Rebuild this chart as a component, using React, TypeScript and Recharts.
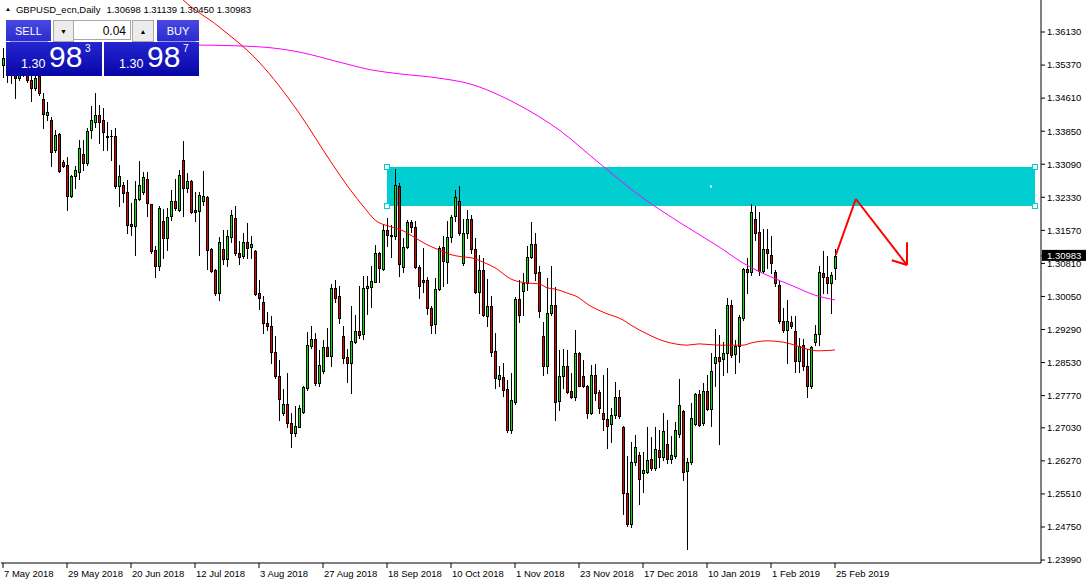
import React from "react";
import {
  ComposedChart,
  Bar,
  Line,
  XAxis,
  YAxis,
  ReferenceArea,
  ReferenceLine,
  ReferenceDot,
} from "recharts";

// GBPUSD daily, 7 May 2018 .. 25 Feb 2019 (one value per bar)
const opens = [
  1.3538, 1.3526, 1.3521, 1.3517, 1.3508, 1.3521, 1.3526, 1.3503, 1.3485, 1.3512,
  1.3459, 1.3422, 1.3411, 1.3342, 1.3378, 1.3314, 1.3307, 1.3236, 1.3281, 1.3292,
  1.3332, 1.3311, 1.3388, 1.3407, 1.3422, 1.3411, 1.3373, 1.3373, 1.3374, 1.3258,
  1.3262, 1.3246, 1.3171, 1.3168, 1.3229, 1.3246, 1.3275, 1.3217, 1.3112, 1.3074,
  1.3179, 1.3140, 1.3189, 1.3225, 1.3204, 1.3319, 1.3255, 1.3271, 1.3204, 1.3202,
  1.3225, 1.3233, 1.3114, 1.3066, 1.3012, 1.3114, 1.3092, 1.3141, 1.3185, 1.3104,
  1.3098, 1.3130, 1.3118, 1.3110, 1.3012, 1.2993, 1.2943, 1.2937, 1.2877, 1.2822,
  1.2738, 1.2757, 1.2715, 1.2692, 1.2706, 1.2740, 1.2795, 1.2890, 1.2907, 1.2805,
  1.2834, 1.2888, 1.2867, 1.3024, 1.3006, 1.2913, 1.2865, 1.2851, 1.2901, 1.2926,
  1.2918, 1.3024, 1.3027, 1.3039, 1.3104, 1.3068, 1.3158, 1.3147, 1.3143, 1.3259,
  1.3072, 1.3118, 1.3176, 1.3164, 1.3072, 1.3043, 1.3043, 1.2978, 1.2941, 1.3022,
  1.3118, 1.3085, 1.3141, 1.3189, 1.3225, 1.3081, 1.3152, 1.3183, 1.3114, 1.3016,
  1.3066, 1.2960, 1.2983, 1.2880, 1.2815, 1.2819, 1.2792, 1.2698, 1.2763, 1.2999,
  1.3018, 1.3035, 1.3095, 1.3126, 1.3061, 1.2914, 1.2846, 1.2966, 1.2985, 1.2765,
  1.2822, 1.2845, 1.2788, 1.2775, 1.2874, 1.2822, 1.2798, 1.2738, 1.2825, 1.2786,
  1.2736, 1.2723, 1.2712, 1.2732, 1.2773, 1.2706, 1.2552, 1.2481, 1.2624, 1.2641,
  1.2598, 1.2602, 1.2631, 1.2610, 1.2652, 1.2635, 1.2666, 1.2631, 1.2638, 1.2689,
  1.2742, 1.2604, 1.2624, 1.2711, 1.2781, 1.2713, 1.2788, 1.2746, 1.2853, 1.2865,
  1.2861, 1.2876, 1.2985, 1.2872, 1.2891, 1.2955, 1.3068, 1.3062, 1.3183, 1.3153,
  1.3064, 1.3114, 1.3100, 1.3061, 1.3032, 1.2949, 1.2928, 1.2946, 1.2926, 1.2857,
  1.2894, 1.2845, 1.2798, 1.2901, 1.2919, 1.3058, 1.3049, 1.3035, 1.30698,
];
const highs = [
  1.3577, 1.3560, 1.3549, 1.3544, 1.3549, 1.3560, 1.3544, 1.3526, 1.3517, 1.3526,
  1.3473, 1.3453, 1.3418, 1.3388, 1.3381, 1.3319, 1.3325, 1.3284, 1.3304, 1.3365,
  1.3365, 1.3393, 1.3442, 1.3472, 1.3446, 1.3438, 1.3407, 1.3388, 1.3393, 1.3307,
  1.3269, 1.3273, 1.3219, 1.3271, 1.3317, 1.3292, 1.3292, 1.3218, 1.3120, 1.3213,
  1.3206, 1.3208, 1.3250, 1.3275, 1.3296, 1.3363, 1.3288, 1.3273, 1.3246, 1.3246,
  1.3294, 1.3236, 1.3117, 1.3068, 1.3141, 1.3158, 1.3158, 1.3204, 1.3213, 1.3133,
  1.3152, 1.3173, 1.3144, 1.3112, 1.3043, 1.3006, 1.2970, 1.2960, 1.2913, 1.2859,
  1.2792, 1.2830, 1.2736, 1.2753, 1.2756, 1.2798, 1.2924, 1.2936, 1.2920, 1.2882,
  1.2905, 1.2933, 1.3033, 1.3043, 1.3029, 1.2936, 1.2884, 1.2983, 1.2962, 1.3028,
  1.3051, 1.3052, 1.3075, 1.3124, 1.3108, 1.3170, 1.3185, 1.3170, 1.3298, 1.3266,
  1.3139, 1.3181, 1.3181, 1.3179, 1.3077, 1.3116, 1.3049, 1.2982, 1.3047, 1.3120,
  1.3143, 1.3179, 1.3192, 1.3250, 1.3259, 1.3183, 1.3204, 1.3192, 1.3139, 1.3101,
  1.3094, 1.3045, 1.3005, 1.2920, 1.2844, 1.2853, 1.2813, 1.2830, 1.3004, 1.3043,
  1.3058, 1.3120, 1.3176, 1.3150, 1.3074, 1.2947, 1.3047, 1.3074, 1.3026, 1.2882,
  1.2884, 1.2882, 1.2828, 1.2928, 1.2878, 1.2859, 1.2801, 1.2848, 1.2850, 1.2790,
  1.2825, 1.2840, 1.2748, 1.2809, 1.2790, 1.2708, 1.2638, 1.2671, 1.2687, 1.2648,
  1.2648, 1.2704, 1.2683, 1.2706, 1.2698, 1.2736, 1.2721, 1.2684, 1.2717, 1.2815,
  1.2745, 1.2633, 1.2761, 1.2784, 1.2790, 1.2805, 1.2825, 1.2874, 1.2930, 1.2917,
  1.2901, 1.3001, 1.2997, 1.2905, 1.2962, 1.3070, 1.3093, 1.3218, 1.3213, 1.3199,
  1.3160, 1.3160, 1.3143, 1.3066, 1.3043, 1.2978, 1.2997, 1.2959, 1.2959, 1.2909,
  1.2907, 1.2884, 1.2890, 1.2940, 1.3074, 1.3110, 1.3097, 1.3062, 1.31139,
];
const lows = [
  1.3510, 1.3498, 1.3496, 1.3462, 1.3503, 1.3512, 1.3498, 1.3455, 1.3480, 1.3469,
  1.3393, 1.3411, 1.3304, 1.3336, 1.3292, 1.3303, 1.3204, 1.3234, 1.3254, 1.3275,
  1.3296, 1.3307, 1.3370, 1.3394, 1.3357, 1.3342, 1.3342, 1.3319, 1.3254, 1.3212,
  1.3223, 1.3150, 1.3147, 1.3101, 1.3227, 1.3241, 1.3191, 1.3106, 1.3049, 1.3066,
  1.3094, 1.3112, 1.3181, 1.3204, 1.3202, 1.3189, 1.3246, 1.3196, 1.3179, 1.3101,
  1.3215, 1.3068, 1.3062, 1.3008, 1.2997, 1.3080, 1.3074, 1.3131, 1.3101, 1.3080,
  1.3093, 1.3093, 1.3093, 1.3008, 1.2976, 1.2920, 1.2928, 1.2853, 1.2818, 1.2721,
  1.2732, 1.2704, 1.2660, 1.2684, 1.2704, 1.2738, 1.2790, 1.2886, 1.2802, 1.2799,
  1.2828, 1.2867, 1.2844, 1.2993, 1.2945, 1.2851, 1.2809, 1.2784, 1.2897, 1.2909,
  1.2907, 1.2964, 1.2980, 1.3038, 1.3039, 1.3066, 1.3120, 1.3095, 1.3137, 1.3053,
  1.3062, 1.3116, 1.3154, 1.3070, 1.3001, 1.3016, 1.2965, 1.2922, 1.2922, 1.3020,
  1.3029, 1.3037, 1.3131, 1.3179, 1.3147, 1.3077, 1.3139, 1.3104, 1.3012, 1.2966,
  1.2959, 1.2936, 1.2867, 1.2794, 1.2798, 1.2776, 1.2694, 1.2690, 1.2758, 1.2947,
  1.2962, 1.3020, 1.3093, 1.3043, 1.2957, 1.2825, 1.2828, 1.2962, 1.2721, 1.2744,
  1.2794, 1.2782, 1.2772, 1.2767, 1.2798, 1.2797, 1.2725, 1.2735, 1.2767, 1.2736,
  1.2698, 1.2657, 1.2671, 1.2726, 1.2726, 1.2505, 1.2478, 1.2476, 1.2617, 1.2528,
  1.2556, 1.2599, 1.2606, 1.2606, 1.2614, 1.2629, 1.2622, 1.2621, 1.2634, 1.2683,
  1.2583, 1.2424, 1.2620, 1.2710, 1.2707, 1.2710, 1.2744, 1.2707, 1.2798, 1.2666,
  1.2825, 1.2832, 1.2866, 1.2830, 1.2855, 1.2951, 1.3014, 1.3055, 1.3135, 1.3055,
  1.3061, 1.3070, 1.3058, 1.3029, 1.2943, 1.2924, 1.2853, 1.2932, 1.2832, 1.2832,
  1.2836, 1.2775, 1.2794, 1.2894, 1.2894, 1.3012, 1.3012, 1.2968, 1.30450,
];
const closes = [
  1.3554, 1.3521, 1.3517, 1.3508, 1.3521, 1.3531, 1.3503, 1.3485, 1.3508, 1.3473,
  1.3425, 1.3430, 1.3338, 1.3376, 1.3294, 1.3305, 1.3236, 1.3282, 1.3296, 1.3346,
  1.3311, 1.3386, 1.3410, 1.3422, 1.3407, 1.3382, 1.3372, 1.3374, 1.3258, 1.3281,
  1.3244, 1.3169, 1.3168, 1.3229, 1.3262, 1.3279, 1.3219, 1.3110, 1.3076, 1.3208,
  1.3140, 1.3187, 1.3225, 1.3208, 1.3284, 1.3255, 1.3271, 1.3200, 1.3200, 1.3238,
  1.3236, 1.3112, 1.3064, 1.3012, 1.3130, 1.3092, 1.3144, 1.3192, 1.3104, 1.3095,
  1.3130, 1.3116, 1.3125, 1.3011, 1.3001, 1.2943, 1.2937, 1.2878, 1.2821, 1.2769,
  1.2757, 1.2715, 1.2692, 1.2707, 1.2748, 1.2796, 1.2894, 1.2907, 1.2805, 1.2847,
  1.2888, 1.2869, 1.3024, 1.3002, 1.2955, 1.2863, 1.2851, 1.2903, 1.2926, 1.2917,
  1.3024, 1.3029, 1.3041, 1.3104, 1.3070, 1.3158, 1.3147, 1.3143, 1.3262, 1.3079,
  1.3118, 1.3176, 1.3164, 1.3072, 1.3028, 1.3038, 1.2978, 1.2940, 1.3022, 1.3116,
  1.3087, 1.3141, 1.3187, 1.3233, 1.3152, 1.3152, 1.3183, 1.3114, 1.3016, 1.3066,
  1.2962, 1.2983, 1.2878, 1.2817, 1.2825, 1.2790, 1.2698, 1.2767, 1.2999, 1.2962,
  1.3035, 1.3095, 1.3126, 1.3060, 1.2972, 1.2846, 1.2966, 1.2985, 1.2763, 1.2822,
  1.2845, 1.2786, 1.2775, 1.2874, 1.2800, 1.2800, 1.2738, 1.2825, 1.2784, 1.2748,
  1.2723, 1.2707, 1.2732, 1.2773, 1.2731, 1.2552, 1.2481, 1.2624, 1.2658, 1.2585,
  1.2607, 1.2629, 1.2610, 1.2654, 1.2635, 1.2696, 1.2631, 1.2641, 1.2698, 1.2756,
  1.2602, 1.2624, 1.2725, 1.2781, 1.2710, 1.2788, 1.2746, 1.2834, 1.2865, 1.2857,
  1.2876, 1.2985, 1.2870, 1.2891, 1.2957, 1.3068, 1.3062, 1.3199, 1.3152, 1.3064,
  1.3114, 1.3104, 1.3081, 1.3035, 1.2949, 1.2928, 1.2949, 1.2938, 1.2857, 1.2891,
  1.2844, 1.2798, 1.2888, 1.2919, 1.3061, 1.3049, 1.3035, 1.3054, 1.30983,
];

// moving averages at some bars: [bar index, price]
const maRedPoints: [number, number][] = [
  [38, 1.376], [45, 1.3687], [54, 1.3625], [64, 1.3544], [74, 1.3427], [82, 1.3314],
  [87, 1.3248], [90, 1.3213], [93, 1.3181], [97, 1.3165], [100, 1.3156], [103, 1.314],
  [106, 1.3124], [109, 1.3112], [112, 1.3101], [115, 1.3096], [117, 1.3094], [120, 1.3084],
  [123, 1.3071], [127, 1.3045], [131, 1.3036], [134, 1.3034], [136, 1.3025], [138, 1.3022],
  [141, 1.3013], [144, 1.3002], [146, 1.2988], [150, 1.2969], [155, 1.2951], [157, 1.2939],
  [161, 1.2919], [165, 1.2903], [168, 1.2896], [171, 1.2893], [174, 1.2896], [179, 1.2893],
  [185, 1.2893], [187, 1.2898], [191, 1.2903], [195, 1.29], [198, 1.2893], [201, 1.2884],
  [204, 1.288], [208, 1.2882],
];
const maMagentaPoints: [number, number][] = [
  [49, 1.3583], [64, 1.3579], [74, 1.3567], [84, 1.3544], [92, 1.3526], [99, 1.3517],
  [109, 1.3507], [117, 1.3493], [124, 1.3468], [129, 1.3445], [139, 1.3388], [149, 1.3312],
  [159, 1.3238], [169, 1.3176], [179, 1.3119], [185, 1.3082], [191, 1.3054], [197, 1.3031],
  [203, 1.3008], [208, 1.2997],
];

const dateTicks = [0, 16, 32, 48, 64, 80, 96, 112, 128, 144, 160, 176, 192, 208];
const dateLabels = [
  "7 May 2018", "29 May 2018", "20 Jun 2018", "12 Jul 2018", "3 Aug 2018",
  "27 Aug 2018", "18 Sep 2018", "10 Oct 2018", "1 Nov 2018", "23 Nov 2018",
  "17 Dec 2018", "10 Jan 2019", "1 Feb 2019", "25 Feb 2019",
];
const priceTicks = [
  1.3613, 1.3537, 1.3461, 1.3385, 1.3309, 1.3233, 1.3157, 1.3081, 1.3005,
  1.2929, 1.2853, 1.2777, 1.2703, 1.2627, 1.2551, 1.2475, 1.2399,
];
const lastPrice = 1.30983;

// drawn objects: resistance zone and the red arrow (bar index, price)
const zoneBars = [96, 258];
const zonePrices = [1.3213, 1.33026];
const arrowPoints: [number, number][] = [[208.2, 1.31003], [213.2, 1.32291], [226, 1.30773]];
const arrowHead: [number, number][] = [[226, 1.31295], [222.2, 1.30881]];

const SLOTS = 260;
const FONT = "'Liberation Sans', Arial, sans-serif";
const BULL = "#00e600";
const BEAR = "#e60000";

const redMap = new Map(maRedPoints);
const magentaMap = new Map(maMagentaPoints);

const rows = Array.from({ length: SLOTS }, (_, i) => ({
  i,
  o: opens[i],
  h: highs[i],
  l: lows[i],
  c: closes[i],
  range: i < opens.length ? [lows[i], highs[i]] : null,
  maRed: redMap.get(i) ?? null,
  maMagenta: magentaMap.get(i) ?? null,
}));

function Candle(props: any) {
  const { x, y, width, height, payload } = props;
  if (!payload || payload.o == null) return <g />;
  const top = Math.min(y, y + height);
  const h = Math.abs(height);
  const span = payload.h - payload.l || 1e-9;
  const py = (v: number) => Math.round(top + ((payload.h - v) / span) * h);
  const cx = Math.round(x + width / 2);
  const hi = py(payload.h);
  const lo = py(payload.l);
  const bTop = py(Math.max(payload.o, payload.c));
  const bBot = py(Math.min(payload.o, payload.c));
  const bh = Math.max(1, bBot - bTop + 1);
  const up = payload.c >= payload.o;
  return (
    <g shapeRendering="crispEdges">
      <rect x={cx} y={hi} width={1} height={lo - hi + 1} fill="#000" />
      <rect x={cx - 1} y={bTop} width={3} height={bh} fill="#000" />
      {bh > 2 && (
        <rect x={cx} y={bTop + 1} width={1} height={bh - 2} fill={up ? BULL : BEAR} />
      )}
    </g>
  );
}

function DateTick(props: any) {
  const { x, y, payload } = props;
  const k = dateTicks.indexOf(payload.value);
  return (
    <text x={x + 1} y={y} dy="0.71em" textAnchor="start" fontSize={9.5} fontFamily={FONT} fill="#000">
      {k >= 0 ? dateLabels[k] : ""}
    </text>
  );
}

function PriceTick(props: any) {
  const { x, y, payload } = props;
  const v = payload.value as number;
  if (Math.abs(v - lastPrice) < 1e-7) {
    return (
      <g>
        <rect x={x - 5} y={y - 6} width={50} height={11} fill="#000" />
        <text x={x} y={y} dy="0.3em" textAnchor="start" fontSize={9.5} fontFamily={FONT} fill="#fff">
          {v.toFixed(5)}
        </text>
      </g>
    );
  }
  return (
    <text x={x} y={y} dy="0.35em" textAnchor="start" fontSize={9.5} fontFamily={FONT} fill="#000">
      {v.toFixed(5)}
    </text>
  );
}

function Handle(props: any) {
  const { cx, cy } = props;
  return <rect x={cx - 2.5} y={cy - 2.5} width={5} height={5} fill="#fff" stroke="#00ced1" strokeWidth={1} />;
}

function CenterDot(props: any) {
  const { cx, cy } = props;
  return <rect x={cx - 1} y={cy - 1} width={2} height={2} fill="#fff" />;
}

function TradePanel() {
  const btn: React.CSSProperties = {
    position: "absolute",
    top: 20,
    height: 21,
    background: "linear-gradient(#4848e0, #2c2cd0)",
    color: "#fff",
    fontSize: 11,
    display: "flex",
    alignItems: "center",
    justifyContent: "center",
  };
  const grey: React.CSSProperties = {
    position: "absolute",
    top: 20,
    height: 20,
    background: "#ececec",
    border: "1px solid #a8a8a8",
    fontSize: 7,
    display: "flex",
    alignItems: "center",
    justifyContent: "center",
    color: "#000",
  };
  const panel: React.CSSProperties = {
    position: "absolute",
    top: 42,
    height: 34,
    background: "linear-gradient(#2626d2, #0606a6)",
    color: "#fff",
  };
  const price = (left: number, big: string, sup: string) => (
    <div style={{ ...panel, left, width: left === 6 ? 96 : 95 }}>
      <span style={{ position: "absolute", left: 15, top: 15, fontSize: 12.5 }}>1.30</span>
      <span style={{ position: "absolute", left: 43, top: -2, fontSize: 30, lineHeight: "34px" }}>{big}</span>
      <span style={{ position: "absolute", left: 79, top: 1, fontSize: 10 }}>{sup}</span>
    </div>
  );
  return (
    <div style={{ position: "absolute", left: 0, top: 0, fontFamily: FONT }}>
      <div style={{ position: "absolute", left: 5, top: 4, fontSize: 9.5, whiteSpace: "nowrap", color: "#000" }}>
        <span style={{ fontSize: 6, verticalAlign: "2px" }}>▲</span>
        <span style={{ marginLeft: 5 }}>GBPUSD_ecn,Daily</span>
        <span style={{ marginLeft: 6 }}>1.30698 1.31139 1.30450 1.30983</span>
      </div>
      <div style={{ ...btn, left: 6, width: 45 }}>SELL</div>
      <div style={{ ...grey, left: 53, width: 19 }}>▼</div>
      <div
        style={{
          position: "absolute",
          left: 73,
          top: 20,
          width: 58,
          height: 20,
          background: "#fff",
          border: "1px solid #a8a8a8",
          fontSize: 12,
          lineHeight: "20px",
          textAlign: "right",
          paddingRight: 4,
          boxSizing: "border-box",
          color: "#000",
        }}
      >
        0.04
      </div>
      <div style={{ ...grey, left: 132, width: 20 }}>▲</div>
      <div style={{ ...btn, left: 157, width: 42 }}>BUY</div>
      {price(6, "98", "3")}
      {price(104, "98", "7")}
      <div style={{ position: "absolute", left: 10, top: 41, width: 38, height: 1, background: "#9a9af0" }} />
      <div style={{ position: "absolute", left: 158, top: 41, width: 38, height: 1, background: "#9a9af0" }} />
    </div>
  );
}

export default function App() {
  return (
    <div style={{ position: "absolute", left: 0, top: 0, width: 1086, height: 584, background: "#fff" }}>
      <ComposedChart
        width={1086}
        height={584}
        data={rows}
        margin={{ top: 0, right: 0, bottom: 0, left: 1 }}
      >
        <XAxis
          dataKey="i"
          type="category"
          ticks={dateTicks}
          interval={0}
          tickSize={5}
          tickMargin={2}
          height={21}
          tick={<DateTick />}
          axisLine={{ stroke: "#000" }}
          tickLine={{ stroke: "#000" }}
        />
        <XAxis
          xAxisId="num"
          dataKey="i"
          type="number"
          domain={[-0.5, SLOTS - 0.5]}
          allowDataOverflow
          hide
        />
        <YAxis
          orientation="right"
          width={45}
          domain={[1.23922, 1.36866]}
          allowDataOverflow
          ticks={[...priceTicks, lastPrice]}
          interval={0}
          tickSize={4}
          tickMargin={2}
          tick={<PriceTick />}
          axisLine={{ stroke: "#000" }}
          tickLine={{ stroke: "#000" }}
        />
        <ReferenceArea
          xAxisId="num"
          x1={zoneBars[0]}
          x2={zoneBars[1]}
          y1={zonePrices[0]}
          y2={zonePrices[1]}
          fill="#00ced1"
          fillOpacity={1}
          stroke="none"
          ifOverflow="visible"
        />
        <Bar dataKey="range" shape={<Candle />} isAnimationActive={false} />
        <Line
          dataKey="maMagenta"
          stroke="#ff00ff"
          strokeWidth={1}
          dot={false}
          activeDot={false}
          connectNulls
          type="monotone"
          isAnimationActive={false}
        />
        <Line
          dataKey="maRed"
          stroke="#ff0000"
          strokeWidth={1}
          dot={false}
          activeDot={false}
          connectNulls
          type="monotone"
          isAnimationActive={false}
        />
        {zoneBars.map((b) =>
          zonePrices.map((p) => (
            <ReferenceDot key={`${b}-${p}`} xAxisId="num" x={b} y={p} shape={<Handle />} ifOverflow="visible" />
          ))
        )}
        <ReferenceDot
          xAxisId="num"
          x={(zoneBars[0] + zoneBars[1]) / 2}
          y={(zonePrices[0] + zonePrices[1]) / 2}
          shape={<CenterDot />}
        />
        {arrowPoints.slice(1).map((p, k) => (
          <ReferenceLine
            key={`a${k}`}
            xAxisId="num"
            segment={[
              { x: arrowPoints[k][0], y: arrowPoints[k][1] },
              { x: p[0], y: p[1] },
            ]}
            stroke="#ff0000"
            strokeWidth={2}
            ifOverflow="visible"
          />
        ))}
        {arrowHead.map((p, k) => (
          <ReferenceLine
            key={`h${k}`}
            xAxisId="num"
            segment={[
              { x: arrowPoints[2][0], y: arrowPoints[2][1] },
              { x: p[0], y: p[1] },
            ]}
            stroke="#ff0000"
            strokeWidth={2}
            ifOverflow="visible"
          />
        ))}
      </ComposedChart>
      <TradePanel />
    </div>
  );
}
